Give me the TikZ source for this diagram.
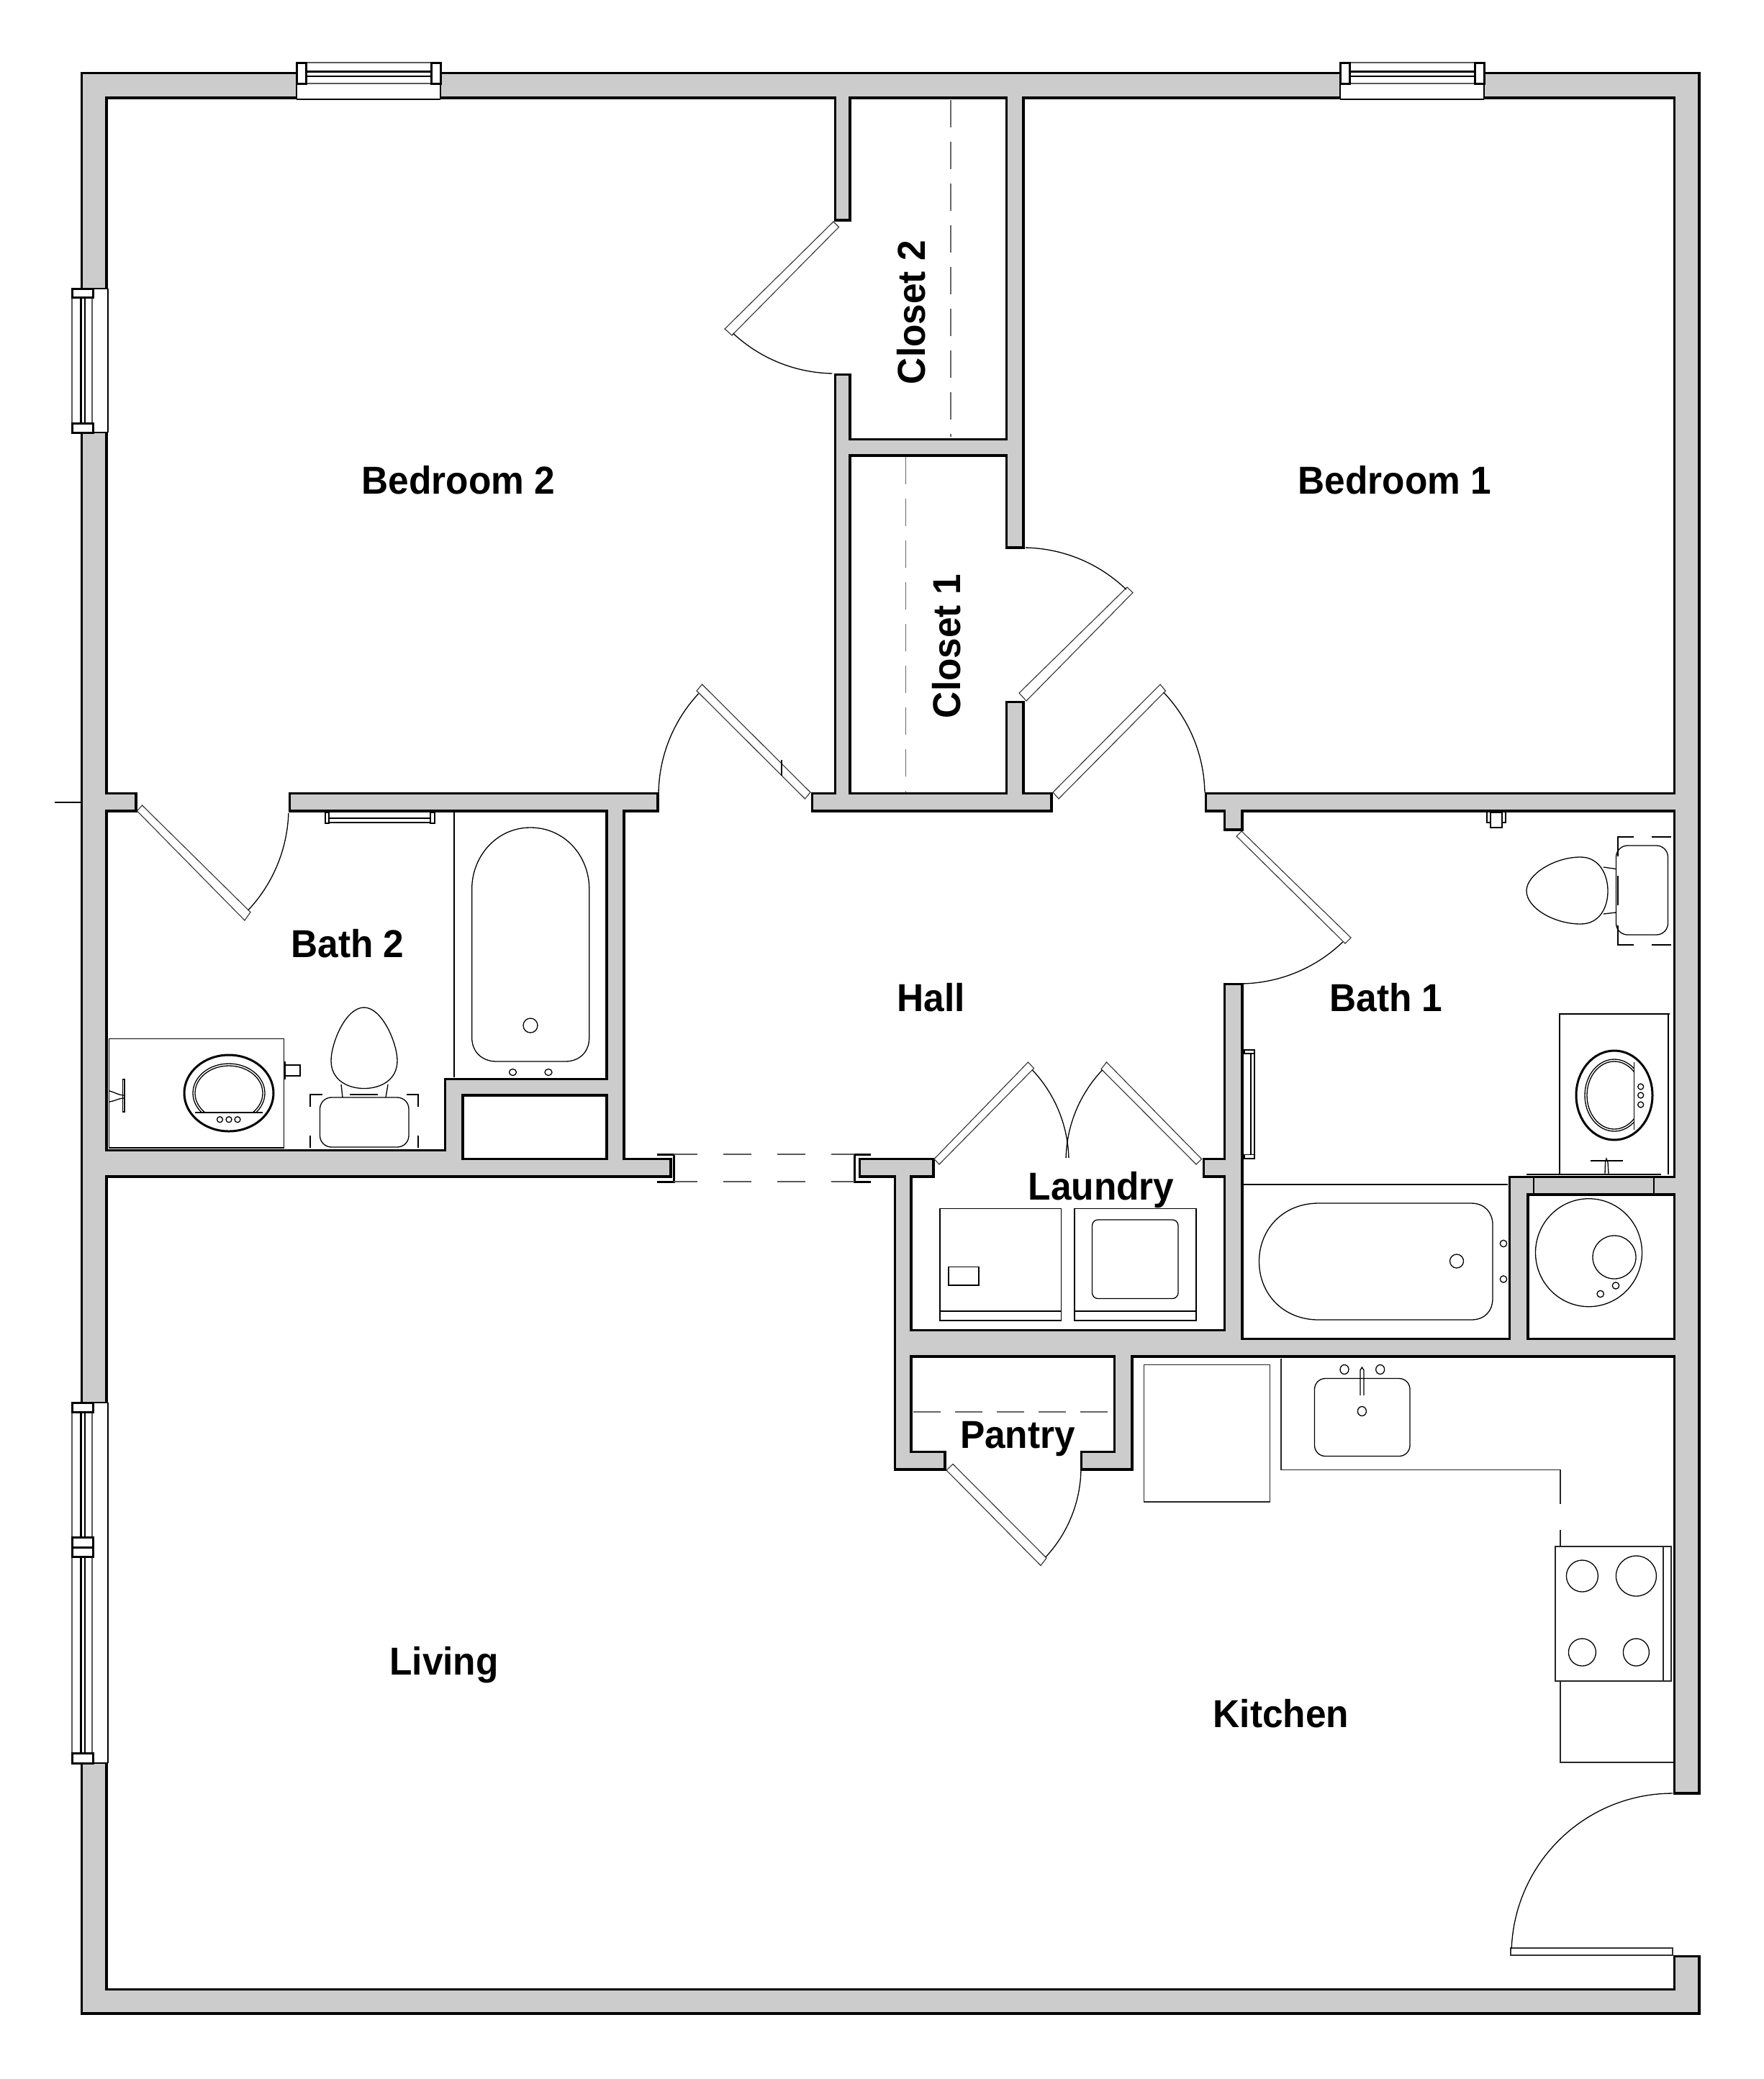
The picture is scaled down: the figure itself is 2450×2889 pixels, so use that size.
\documentclass[tikz,border=0pt]{standalone}
\usepackage{fontspec}
\setmainfont{Liberation Sans}
\definecolor{wallgray}{HTML}{CCCCCC}
\tikzset{
  thinln/.style={line width=.13mm,draw=black},
  greyln/.style={line width=.13mm,draw=black!65},
  kitln/.style={line width=.13mm,draw=black!85},
  medln/.style={line width=.2mm,draw=black},
  heavyln/.style={line width=.3mm,draw=black},
  leaf/.style={line width=.11mm,draw=black!80,fill=white},
  jamb/.style={line width=.3mm,draw=black,fill=white},
  roomlabel/.style={font=\bfseries\fontsize{15.4pt}{17pt}\selectfont,inner sep=0pt,anchor=base,text=black,xscale=.95,transform shape},
  dashln/.style={line width=.12mm,draw=black!60,dash pattern=on 3.8mm off 2mm},
}
\newcommand\ovl[5][thinln]{\draw[#1] (#2,#3) ellipse [x radius=#4*0.1mm, y radius=#5*0.1mm];}
% door swing: centre x, centre y, radius, from angle, to angle (y axis points down)
\newcommand\swing[5]{\draw[thinln] plot[domain=#4:#5,samples=40] ({#1+#3*cos(\x)},{#2+#3*sin(\x)});}
\newcommand\topwin[2]{%
  \fill[white] (#1,97) rectangle (#2,138);
  \draw[thinln] (#1,138) -- (#2,138);
  \draw[medln] (#1,116) -- (#1,138) (#2,116) -- (#2,138);
  \draw[greyln] (#1,87) -- (#2,87) (#1,116) -- (#2,116);
  \draw[heavyln] (#1,99) -- (#2,99);
  \draw[medln] (#1,106) -- (#2,106);
  \draw[jamb] (#1,87) rectangle ({#1+13},116);
  \draw[jamb] ({#2-13},87) rectangle (#2,116);
}
\newcommand\leftrail[2]{%
  \draw[greyln] (100,#1) -- (100,#2) (128,#1) -- (128,#2);
  \draw[heavyln] (112,#1) -- (112,#2);
  \draw[medln] (118,#1) -- (118,#2);
}
\newcommand\leftopen[2]{%
  \fill[white] (108,#1) rectangle (151,#2);
  \draw[medln] (150,#1) -- (150,#2);
  \draw[medln] (128,#1) -- (150,#1) (128,#2) -- (150,#2);
}
\begin{document}
\begin{tikzpicture}[x=.1mm,y=-.1mm]
\useasboundingbox (0,0) rectangle (2450,2889);
\fill[white] (0,0) rectangle (2450,2889);
% pocket door frames
\draw[jamb] (913,1604) -- (936,1604) -- (936,1642) -- (913,1642);
\draw[jamb] (1210,1604) -- (1187,1604) -- (1187,1642) -- (1210,1642);
% walls: x1/y1/x2/y2 of the grey; black pass first, grey pass over it
\def\walllist{115/103/146/2796, 115/103/2359/134, 2328/103/2359/2490, 2328/2720/2359/2796, 115/2766/2359/2796,
 1162/134/1179/304, 1162/522/1179/1104, 1400/134/1420/759, 1400/977/1420/1104, 1179/612/1400/631,
 1130/1104/1459/1125, 146/1104/187/1125, 404/1104/912/1125, 1677/1104/2328/1125,
 1703/1125/1724/1151, 1703/1369/1724/1883, 1674/1612/1703/1633,
 844.5/1125/865/1633, 146/1600/620/1633, 620/1501/641/1633, 620/1501/865/1520, 620/1612/930/1633,
 1196/1612/1295/1633, 1245/1633/1264/2040, 1245/1850/1724/1883, 1245/1862/2328/1883,
 2099/1637/2121/1862, 2099/1637/2328/1658,
 1550/1883/1571/2040, 1504/2019/1571/2040, 1245/2019/1311/2040}
\foreach \a/\b/\c/\d in \walllist {\fill[black] ({\a-3.5},{\b-3.5}) rectangle ({\c+3.5},{\d+3.5});}
\foreach \a/\b/\c/\d in \walllist {\fill[wallgray] (\a,\b) rectangle (\c,\d);}
% tick at the outer wall
\draw[thinln] (76,1115) -- (112,1115);
% windows
\topwin{412}{612}
\topwin{1862}{2062}
\leftopen{401}{601}
\leftrail{413}{588}
\draw[jamb] (100,401) rectangle (129,413);
\draw[jamb] (100,588) rectangle (129,601);
\leftopen{1949}{2450}
\leftrail{1962}{2136}
\leftrail{2163}{2436}
\draw[jamb] (100,1949) rectangle (129,1962);
\draw[jamb] (100,2136) rectangle (129,2150);
\draw[jamb] (100,2150) rectangle (129,2163);
\draw[jamb] (100,2436) rectangle (129,2450);
% doors
\draw[leaf] (1158,308) -- (1165.5,315.5) -- (1017,466) -- (1007,457) -- cycle;
\swing{1160}{312}{207}{133}{91}
\draw[leaf] (975.5,951) -- (968,960) -- (1118.5,1110) -- (1126,1101) -- cycle;
\draw[thinln] (1086,1056) -- (1086,1078);
\swing{1122}{1105}{207}{223}{181}
\draw[leaf] (1416,963) -- (1426,974) -- (1574,823.5) -- (1566,816) -- cycle;
\swing{1421}{968}{207}{-46}{-89}
\draw[leaf] (1612,951) -- (1619.5,960) -- (1471,1110) -- (1463,1101) -- cycle;
\swing{1467}{1105}{207}{-43.6}{-1}
\draw[leaf] (197.5,1119) -- (190.5,1127) -- (340,1279) -- (348,1267.5) -- cycle;
\swing{194}{1123}{207}{43.2}{2}
\draw[leaf] (1718,1162) -- (1725,1155) -- (1877,1303) -- (1869,1311) -- cycle;
\swing{1722}{1160}{207}{46}{89}
\draw[leaf] (1298,1610.5) -- (1305,1618) -- (1436.5,1484.5) -- (1428.5,1476) -- cycle;
\swing{1300}{1614}{185}{-43.4}{-1.5}
\draw[leaf] (1669.5,1610.5) -- (1662,1618) -- (1530,1485.5) -- (1537.5,1476) -- cycle;
\swing{1666}{1614}{185}{223.4}{181.5}
\draw[leaf] (1315,2043) -- (1324,2034.5) -- (1454,2165) -- (1446,2175.5) -- cycle;
\swing{1319}{2039}{183}{43}{1.5}
\draw[leaf] (2099,2707) rectangle (2324,2717);
\swing{2324}{2716}{224}{182}{270}
% closet and pocket dashes
\draw[dashln] (1321,139) -- (1321,607);
\draw[dashln] (1258.5,635) -- (1258.5,1101);
\draw[dashln] (1269,1962) -- (1544,1962);
\draw[greyln,dash pattern=on 3.9mm off 3.6mm,dash phase=.6mm] (936,1604) -- (1187,1604);
\draw[greyln,dash pattern=on 3.9mm off 3.6mm,dash phase=.6mm] (936,1642) -- (1187,1642);
% --- Bath 2
\draw[thinln] (452,1129) rectangle (457,1144) (598,1129) rectangle (604,1144);
\draw[thinln] (457,1137) -- (598,1137) (457,1143) -- (598,1143);
\draw[thinln] (631,1129) -- (631,1497);
\draw[thinln] (737,1150) .. controls (785,1150) and (818.7,1190) .. (818.7,1235) -- (818.7,1442) .. controls (818.7,1462) and (805,1475) .. (785,1475) -- (690,1475) .. controls (670,1475) and (655.7,1462) .. (655.7,1442) -- (655.7,1235) .. controls (655.7,1190) and (690,1150) .. (737,1150) -- cycle;
\ovl{737}{1425}{10}{10}
\ovl{712.5}{1490}{5}{4.5}
\ovl{762}{1490}{5}{4.5}
\draw[thinln] (151.5,1443.5) rectangle (394.5,1595);
\ovl[heavyln]{318}{1519}{62}{53}
\begin{scope}
  \clip (240,1470) rectangle (400,1546);
  \ovl{318}{1519}{50}{41}
  \ovl{318}{1519}{47}{38}
\end{scope}
\draw[thinln] (271,1546) -- (365,1546);
\ovl{305.5}{1555.7}{4}{4}
\ovl{318}{1555.7}{4}{4}
\ovl{330}{1555.7}{4}{4}
\draw[thinln] (170.5,1500) rectangle (173,1545);
\draw[thinln] (152,1516) .. controls (160,1518) and (165,1522) .. (172,1522) (172,1526) .. controls (165,1526) and (160,1530) .. (152,1531);
\draw[thinln] (396,1475) -- (396,1500) (396,1480) rectangle (417,1495);
\draw[thinln,rounded corners=1.6mm] (444.5,1525) rectangle (568,1594);
\draw[thinln] (505.8,1400) .. controls (480,1400) and (460,1450) .. (460,1474) .. controls (460,1500) and (482,1512.5) .. (505.8,1512.5) .. controls (530,1512.5) and (552,1500) .. (552,1474) .. controls (552,1450) and (531,1400) .. (505.8,1400) -- cycle;
\draw[thinln] (474,1507) -- (476,1525) (539,1507) -- (536,1525);
\draw[thinln] (431,1538) -- (431,1521) -- (448,1521) (486,1521) -- (525,1521) (565,1521) -- (581,1521) -- (581,1538) (431,1578) -- (431,1595) (581,1578) -- (581,1595);
% --- Bath 1
\draw[thinln] (1729,1459) rectangle (1743,1464) (1729,1604.5) rectangle (1743,1610);
\draw[thinln] (1738,1464) -- (1738,1604.5) (1743,1464) -- (1743,1604.5);
\draw[thinln] (2071,1129) rectangle (2087,1150) (2066,1129) -- (2066,1143) -- (2071,1143) (2092,1129) -- (2092,1143) -- (2087,1143);
\draw[thinln] (2248,1190) -- (2248,1163) -- (2270,1163) (2295,1163) -- (2322,1163) (2248,1286) -- (2248,1313) -- (2270,1313) (2295,1313) -- (2322,1313) (2248,1217) -- (2248,1258);
\draw[thinln,rounded corners=1.6mm] (2245.5,1175) rectangle (2317.5,1299);
\draw[thinln] (2121,1238) .. controls (2121,1215) and (2160,1191) .. (2196,1191) .. controls (2222,1191) and (2234,1215) .. (2234,1238) .. controls (2234,1262) and (2222,1284) .. (2196,1284) .. controls (2160,1284) and (2121,1262) .. (2121,1238) -- cycle;
\draw[thinln] (2228,1205) -- (2245.5,1207.5) (2228,1270) -- (2245.5,1268);
\draw[thinln] (2167,1632) -- (2167,1409) -- (2320,1409);
\draw[thinln] (2318,1409) -- (2318,1632);
\ovl[heavyln]{2243}{1522}{53}{62}
\begin{scope}
  \clip (2190,1460) rectangle (2270.5,1585);
  \ovl{2243}{1522}{41}{50}
  \ovl{2243}{1522}{38}{47}
\end{scope}
\draw[thinln] (2270.5,1476) -- (2270.5,1570);
\ovl{2279.7}{1510}{4}{4}
\ovl{2279.7}{1522}{4}{4}
\ovl{2279.7}{1535}{4}{4}
\draw[medln] (2210,1613) -- (2255,1613);
\draw[thinln] (2230,1631) -- (2230.5,1615) -- (2232,1610) -- (2234,1615) -- (2235,1631);
\draw[medln] (2121,1632) -- (2308,1632);
\draw[thinln] (2131,1637) -- (2131,1658) (2298,1637) -- (2298,1658);
\draw[thinln] (1727,1646) -- (2095,1646);
\draw[thinln] (1832,1672) -- (2044,1672) .. controls (2063,1672) and (2074,1685) .. (2074,1702) -- (2074,1804) .. controls (2074,1822) and (2063,1834) .. (2044,1834) -- (1832,1834) .. controls (1783,1834) and (1749.5,1798) .. (1749.5,1753) .. controls (1749.5,1708) and (1783,1672) .. (1832,1672) -- cycle;
\ovl{2024}{1752.5}{9.5}{9.5}
\ovl{2089}{1728}{4.7}{4.7}
\ovl{2089}{1777.5}{4.7}{4.7}
\ovl{2207.5}{1740.7}{74}{75}
\ovl{2243}{1747}{30}{30}
\ovl{2245}{1786.5}{4.7}{4.7}
\ovl{2223.7}{1798}{4.7}{4.7}
% --- Laundry
\draw[thinln] (1306,1679.5) rectangle (1474.5,1835);
\draw[thinln] (1306,1822) -- (1474.5,1822);
\draw[thinln] (1318,1760.5) rectangle (1360,1786);
\draw[thinln] (1493,1679.5) rectangle (1662,1835);
\draw[thinln] (1493,1822) -- (1662,1822);
\draw[thinln,rounded corners=.8mm] (1517.5,1695) rectangle (1637,1804.5);
% --- Kitchen
\draw[kitln] (1589.5,1896.5) rectangle (1764.5,2087);
\draw[kitln] (1780,1888) -- (1780,2042.8) -- (2168,2042.8) -- (2168,2089.5);
\draw[kitln] (2168,2125.5) -- (2168,2149);
\draw[thinln,rounded corners=1.5mm] (1826.5,1915.5) rectangle (1959,2023.5);
\draw[thinln] (1890,1939) -- (1890,1904) -- (1892.4,1900) -- (1895,1904) -- (1895,1939);
\ovl{1892.4}{1961}{6}{6.5}
\ovl{1868}{1903}{6}{6.5}
\ovl{1917.7}{1903}{6}{6.5}
\draw[kitln] (2161,2149) rectangle (2322,2336);
\draw[kitln] (2311,2149) -- (2311,2336);
\ovl{2198.4}{2190}{22}{22}
\ovl{2273.4}{2190}{28}{28}
\ovl{2198.4}{2296}{19}{19}
\ovl{2273.4}{2296}{18}{19}
\draw[kitln] (2168,2336) -- (2168,2449) -- (2325,2449);
% labels
\node[roomlabel] (bedtwo) at (637,686) {Bedroom 2};
\node[roomlabel] (bedone) at (1938,686) {Bedroom 1};
\node[rotate=90,roomlabel] (closettwo) at (1285,434) {Closet 2};
\node[rotate=90,roomlabel] (closetone) at (1334,898) {Closet 1};
\node[roomlabel] (bathtwo) at (483,1330) {Bath 2};
\node[roomlabel] (hall) at (1294,1405) {Hall};
\node[roomlabel] (bathone) at (1926,1405) {Bath 1};
\node[roomlabel] (laundry) at (1530,1667) {Laundry};
\node[roomlabel] (pantry) at (1414,2012) {Pantry};
\node[roomlabel] (living) at (617,2327) {Living};
\node[roomlabel] (kitchen) at (1780,2400) {Kitchen};
\end{tikzpicture}
\end{document}
